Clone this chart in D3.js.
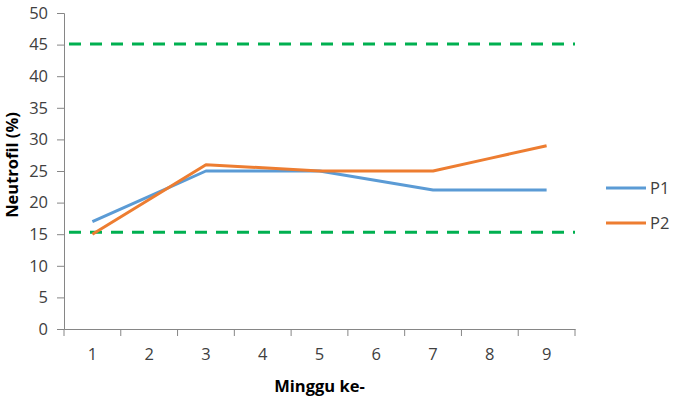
<!DOCTYPE html>
<html>
<head>
<meta charset="utf-8">
<script src="https://cdn.jsdelivr.net/npm/d3@7"></script>
<style>
  body { margin: 0; background: #fff; }
  svg { display: block; font-family: "Open Sans", sans-serif; }
</style>
</head>
<body>
<script>
// chart data
var weeks = ["1", "2", "3", "4", "5", "6", "7", "8", "9"];
var p1 = [17, 21, 25, 25, 25, 23.5, 22, 22, 22];
var p2 = [15, 20.5, 26, 25.5, 25, 25, 25, 27, 29];
var yTicks = [0, 5, 10, 15, 20, 25, 30, 35, 40, 45, 50];
var refLines = [45.1, 15.3];   // green dashed limits
var seriesNames = ["P1", "P2"];
var seriesColors = ["#5B9BD5", "#ED7D31"];

var width = 678, height = 398;
var margin = {top: 13, right: 103, bottom: 69, left: 64};
var plotW = width - margin.left - margin.right,
    plotH = height - margin.top - margin.bottom;

var svg = d3.select("body").append("svg")
    .attr("width", width)
    .attr("height", height);

var g = svg.append("g")
    .attr("transform", "translate(" + margin.left + "," + margin.top + ")");

var x = d3.scaleBand().domain(weeks).range([0, plotW]);
var y = d3.scaleLinear().domain([0, 50]).range([plotH, 0]);

// y axis
var yAxis = g.append("g")
    .call(d3.axisLeft(y).tickValues(yTicks).tickSize(7).tickPadding(9));
yAxis.selectAll("line, path").attr("stroke", "#868686");
yAxis.selectAll("text").attr("font-size", "16.5px").attr("fill", "#404040")
    .attr("font-family", "Open Sans");

// x axis: ticks sit on category boundaries
var xAxis = g.append("g")
    .attr("transform", "translate(0," + plotH + ")")
    .call(d3.axisBottom(x).tickSize(0).tickPadding(19));
xAxis.select("path").attr("stroke", "#868686");
xAxis.selectAll("text").attr("font-size", "16.5px").attr("fill", "#404040")
    .attr("font-family", "Open Sans");
g.selectAll(".xtick")
    .data(d3.range(weeks.length + 1))
    .enter().append("line")
    .attr("class", "xtick")
    .attr("x1", function(i) { return i * x.bandwidth(); })
    .attr("x2", function(i) { return i * x.bandwidth(); })
    .attr("y1", plotH)
    .attr("y2", plotH + 7)
    .attr("stroke", "#868686");

// reference lines
g.selectAll(".ref")
    .data(refLines)
    .enter().append("line")
    .attr("class", "ref")
    .attr("x1", 5)
    .attr("x2", plotW)
    .attr("y1", function(d) { return y(d); })
    .attr("y2", function(d) { return y(d); })
    .attr("stroke", "#00B050")
    .attr("stroke-width", 3)
    .attr("stroke-dasharray", "12,9");

// series lines
var line = d3.line()
    .x(function(d, i) { return x(weeks[i]) + x.bandwidth() / 2; })
    .y(function(d) { return y(d); });

[p1, p2].forEach(function(s, k) {
  g.append("path")
    .datum(s)
    .attr("fill", "none")
    .attr("stroke", seriesColors[k])
    .attr("stroke-width", 3)
    .attr("stroke-linejoin", "round")
    .attr("d", line);
});

// axis titles
svg.append("text")
    .attr("x", margin.left + plotW / 2)
    .attr("y", 392)
    .attr("text-anchor", "middle")
    .attr("font-size", "16.5px")
    .attr("font-weight", "bold")
    .attr("fill", "#000")
    .text("Minggu ke-");

svg.append("text")
    .attr("transform", "translate(18,165) rotate(-90)")
    .attr("text-anchor", "middle")
    .attr("font-size", "16.5px")
    .attr("font-weight", "bold")
    .attr("fill", "#000")
    .text("Neutrofil (%)");

// legend
var legend = svg.selectAll(".legend")
    .data(seriesNames)
    .enter().append("g")
    .attr("class", "legend")
    .attr("transform", function(d, i) { return "translate(606," + (188 + i * 35) + ")"; });
legend.append("line")
    .attr("x1", 0).attr("x2", 40)
    .attr("stroke", function(d, i) { return seriesColors[i]; })
    .attr("stroke-width", 3);
legend.append("text")
    .attr("x", 44)
    .attr("dy", "0.35em")
    .attr("font-size", "16.5px")
    .attr("fill", "#404040")
    .text(function(d) { return d; });
</script>
</body>
</html>
